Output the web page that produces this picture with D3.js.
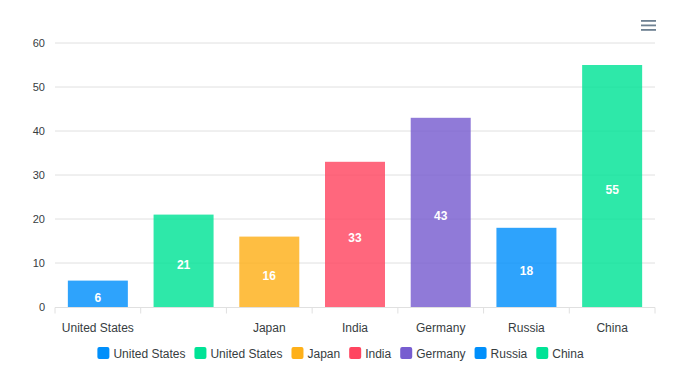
<!DOCTYPE html>
<html><head><meta charset="utf-8">
<script src="https://cdn.jsdelivr.net/npm/d3@7"></script>
<style>body{margin:0;background:#fff;font-family:Helvetica, Arial, "Liberation Sans", sans-serif;}</style>
</head><body><svg id="c" width="683" height="381"></svg>
<script>
const categories = ["United States","United States","Japan","India","Germany","Russia","China"];
const values = [6,21,16,33,43,18,55];
const palette = ["#008FFB","#00E396","#FEB019","#FF4560","#775DD0","#008FFB","#00E396"];
const yTicks = [0,10,20,30,40,50,60];

const svg = d3.select("#c");
const m = {l:55, r:655, t:43, b:307};
const x = d3.scaleBand().domain(d3.range(categories.length)).range([m.l, m.r]).paddingInner(0).paddingOuter(0);
const y = d3.scaleLinear().domain([0,60]).range([m.b, m.t]);
const font = "Helvetica, Arial, 'Liberation Sans', sans-serif";

// grid
svg.append("g").selectAll("line").data(yTicks.slice(1)).join("line")
  .attr("x1", m.l).attr("x2", m.r).attr("y1", d=>y(d)).attr("y2", d=>y(d))
  .attr("stroke", "#e0e0e0").attr("stroke-width",1);
// y labels
svg.append("g").selectAll("text").data(yTicks).join("text")
  .attr("x", 45).attr("y", d=>y(d)+4).attr("text-anchor","end")
  .attr("font-size",11).attr("font-family",font).attr("fill","#373d3f").text(d=>d);

// bars
const bw = x.bandwidth()*0.7;
svg.append("g").selectAll("rect").data(values).join("rect")
  .attr("x",(d,i)=>x(i)+(x.bandwidth()-bw)/2).attr("width",bw)
  .attr("y",d=>y(d)).attr("height",d=>y(0)-y(d))
  .attr("fill",(d,i)=>palette[i]).attr("fill-opacity",0.82);
// data labels
svg.append("g").selectAll("text").data(values).join("text")
  .attr("x",(d,i)=>x(i)+x.bandwidth()/2).attr("y",d=>(y(d)+y(0))/2+8)
  .attr("text-anchor","middle").attr("font-size",12).attr("font-weight","bold")
  .attr("font-family",font).attr("fill","#fff").text(d=>d);

// x axis
svg.append("line").attr("x1",m.l).attr("x2",m.r).attr("y1",y(0)+0.5).attr("y2",y(0)+0.5).attr("stroke","#e0e0e0");
svg.append("g").selectAll("line").data(d3.range(categories.length+1)).join("line")
  .attr("x1",i=>i<categories.length?x(i):m.r).attr("x2",i=>i<categories.length?x(i):m.r)
  .attr("y1",y(0)+0.5).attr("y2",y(0)+6.5).attr("stroke","#e0e0e0");
// x labels: a label repeating the previous one is not drawn again
const xl = svg.append("g");
categories.forEach((c,i)=>{
  if (i>0 && c===categories[i-1]) return;
  xl.append("text").attr("x",x(i)+x.bandwidth()/2).attr("y",332)
    .attr("text-anchor","middle").attr("font-size",12).attr("font-family",font).attr("fill","#373d3f").text(c);
});

// legend
const lg = svg.append("g");
const items = categories.map((c,i)=>({c, col: palette[i]}));
let widths = [];
const tmp = lg.append("text").attr("font-size",12).attr("font-family",font);
items.forEach(it=>{tmp.text(it.c); widths.push(tmp.node().getComputedTextLength());});
tmp.remove();
const gap = 9, mk = 12, mgap = 4;
const total = d3.sum(widths) + items.length*(mk+mgap) + (items.length-1)*gap;
let cx = 340.5 - total/2;
items.forEach((it,i)=>{
  lg.append("rect").attr("x",cx).attr("y",347).attr("width",mk).attr("height",mk).attr("rx",2).attr("fill",it.col);
  lg.append("text").attr("x",cx+mk+mgap).attr("y",357.5).attr("font-size",12).attr("font-family",font).attr("fill","#373d3f").text(it.c);
  cx += mk+mgap+widths[i]+gap;
});

// menu icon
const mi = svg.append("g");
[0,1,2].forEach(k=>mi.append("rect").attr("x",641).attr("y",20+k*4.5).attr("width",15).attr("height",1.8).attr("fill","#6E8192"));
</script></body></html>
